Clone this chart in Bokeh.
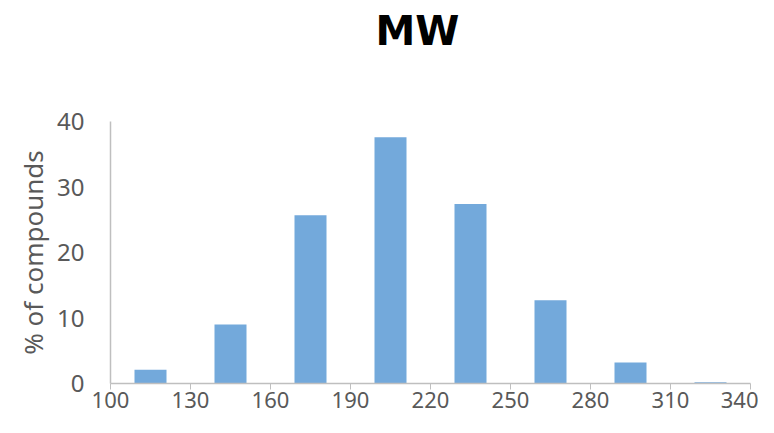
from bokeh.plotting import figure
from bokeh.embed import file_html
from bokeh.resources import INLINE
from bokeh.models import Range1d, FixedTicker, ColumnDataSource

bin_centers = [115, 145, 175, 205, 235, 265, 295, 325]
pct_compounds = [2.1, 9.0, 25.7, 37.6, 27.4, 12.7, 3.2, 0.2]
x_ticks = [100, 130, 160, 190, 220, 250, 280, 310, 340]
y_ticks = [0, 10, 20, 30, 40]

src = ColumnDataSource(dict(x=bin_centers, top=pct_compounds))

p = figure(width=758, height=417, output_backend="svg", toolbar_location=None,
           x_range=Range1d(100, 340), y_range=Range1d(0, 40),
           min_border_left=110, min_border_right=8, min_border_bottom=34, min_border_top=0)
p.vbar(x="x", top="top", width=12, source=src, fill_color="#73A9DB", line_color=None)

p.title.text = "MW"
p.title.align = "left"
p.title.vertical_align = "top"
p.title.text_font = "DejaVu Sans"
p.title.text_font_size = "40px"
p.title.text_font_style = "bold"
p.title.text_color = "#000000"
p.title.offset = 265
p.title.standoff = 0
p.title.padding = (0, 0, 7, 66)

p.outline_line_color = None
p.xgrid.visible = False
p.ygrid.visible = False

p.xaxis.ticker = FixedTicker(ticks=x_ticks)
p.yaxis.ticker = FixedTicker(ticks=y_ticks)
for ax in (p.xaxis, p.yaxis):
    ax.axis_line_color = "#BFBFBF"
    ax.axis_line_width = 1.5
    ax.minor_tick_line_color = None
    ax.major_label_text_font = "Noto Sans"
    ax.major_label_text_color = "#595959"
p.yaxis.major_label_text_font_size = "24px"
p.xaxis.major_label_text_font_size = "22px"
p.xaxis.major_tick_line_color = "#BFBFBF"
p.xaxis.major_tick_in = 0
p.xaxis.major_tick_out = 6
p.xaxis.major_label_standoff = 2
p.yaxis.major_tick_line_color = None
p.yaxis.major_label_standoff = 20

p.yaxis.axis_label = "% of compounds"
p.yaxis.axis_label_text_font = "Noto Sans"
p.yaxis.axis_label_text_font_size = "26px"
p.yaxis.axis_label_text_font_style = "normal"
p.yaxis.axis_label_text_color = "#595959"
p.yaxis.axis_label_standoff = 3

open("out.html", "w").write(file_html(p, INLINE))
